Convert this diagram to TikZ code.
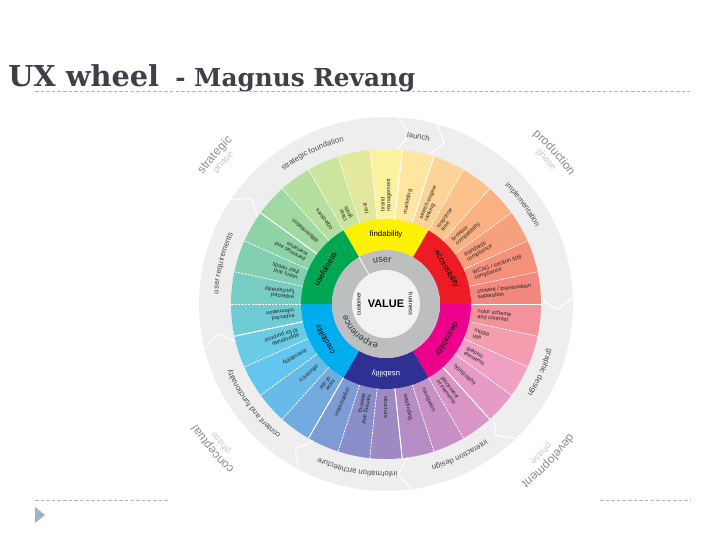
\documentclass[tikz,border=0pt]{standalone}
\usepackage{fontspec}
\setsansfont{Liberation Sans}
\newfontfamily\titlefont{DejaVu Serif}
\usepackage{tikz}
\usetikzlibrary{decorations.text}
\definecolor{titlegray}{HTML}{3F3F4A}
\definecolor{rulegray}{HTML}{B4B4B4}
\definecolor{bandgray}{HTML}{EEEEEE}
\definecolor{ringgray}{HTML}{BCBEC0}
\definecolor{valuewhite}{HTML}{F2F2F2}
\definecolor{phasegray}{HTML}{8C8C8C}
\definecolor{phaselight}{HTML}{C8C8C8}
\definecolor{bulletblue}{HTML}{9DB2C6}
\newcommand{\fsz}[1]{\fontsize{#1}{#1}\selectfont}

\begin{document}
\begin{tikzpicture}[
  font=\sffamily,
  seglabel/.style={font=\sffamily\fsz{4}, align=left, anchor=west, inner sep=0pt, text=black!85},
  corelabel/.style={font=\sffamily\fsz{5.6}, inner sep=0pt},
  segsep/.style={white, line width=0.5pt, dash pattern=on 1.6pt off 0.8pt},
  catsep/.style={white, line width=0.7pt},
  bandtext/.style={decorate, decoration={text along path, text align=center, text color=black!70, text={|\sffamily\fsz{5.5}|#1}}},
  ringtext/.style={decorate, decoration={text along path, text align=center, text color=black!80, text={|\sffamily\fsz{6.5}|#1}}},
  phasetext/.style={decorate, decoration={text along path, text align=center, text color=phasegray, text={|\sffamily\fsz{8.5}|#1}}},
  phasesub/.style={decorate, decoration={text along path, text align=center, text color=phaselight, text={|\sffamily\fsz{6.5}|#1}}},
  rulerline/.style={rulegray, line width=0.5pt, dash pattern=on 2.5pt off 1.5pt}
]
\useasboundingbox (-9.65,-5.9) rectangle (8.35,7.6);

\node[anchor=base west, inner sep=0pt, font=\titlefont\bfseries\fsz{20.5}, text=titlegray] (title) at (-9.45,5.425) {UX wheel};
\node[anchor=base west, inner sep=0pt, font=\titlefont\bfseries\fsz{17.6}, text=titlegray] (author) at (-5.275,5.425) {- Magnus Revang};
\draw[rulerline] (-8.775,5.325) -- (7.6,5.325);
\draw[rulerline] (-8.775,-4.9) -- (-5.45,-4.9);
\draw[rulerline] (5.35,-4.9) -- (7.6,-4.9);
\fill[bulletblue] (-8.775,-5.075) -- (-8.525,-5.275) -- (-8.775,-5.475) -- cycle;

\fill[bandgray] (0,0) circle (4.675);
\foreach \a/\c/\t [count=\i] in {
  102/E2E89E/{trust}, 90/FBF3A0/{brand\\management}, 78/FEE6A0/{marketing},
  66/FDD497/{search engine\\ranking}, 54/FBC38B/{response\\time},
  42/F9B183/{browser\\compatibility}, 30/F7A07D/{standards\\compliance},
  18/F5917A/{WCAG / section 508\\compliance}, 6/F3887F/{content / presentation\\separation},
  -6/F3929A/{color scheme\\and contrast}, -18/F39DAE/{media\\use},
  -30/F0A0C3/{graphic\\elements}, -42/E69BC7/{typography},
  -54/D895C6/{placement\\of elements}, -66/C891C5/{navigation},
  -78/B48DC4/{wayfinding}, -90/9E8AC3/{structure},
  -102/8A8FCB/{naming and\\labeling}, -114/7D9BD5/{organization},
  -126/73AADF/{ease\\of use}, -138/68BAE9/{efficiency},
  -150/62C6F0/{learnability}, -162/69CBE4/{appropriate\\fit for purpose},
  -174/70CCD4/{expected\\information}, 174/77CDC1/{expected\\functionality},
  162/82CFB1/{users and\\their needs}, 150/8ED3A5/{personas and\\scenarios},
  138/9FD8A0/{differentiation}, 126/B5DF9E/{objectives}, 114/CBE59D/{clear\\goals}}{
  \definecolor{segc}{HTML}{\c}
  \fill[segc] ({\a-6}:2.125) -- ({\a-6}:3.875) arc[start angle=\a-6, end angle=\a+6, radius=3.875]
    -- ({\a+6}:2.125) arc[start angle=\a+6, end angle=\a-6, radius=2.125] -- cycle;
  \node[seglabel, rotate=\a] (seg\i) at (\a:2.3) {\t};
}
\foreach \b in {0,12,...,348}
  \draw[segsep] (\b:2.125) -- (\b:3.875);
\foreach \b in {144,84,72,0,-48,-84,-120,-168}{
  \draw[catsep] (\b:2.125) -- (\b:3.875);
  \draw[catsep] ({\b+2}:3.875) -- ({\b-2}:4.275) -- ({\b+2}:4.675);
}

\foreach \m/\c/\t/\k [count=\j] in {90/FFF200/findability/black, 30/ED1C24/accessibility/black,
  -30/EC008C/desirability/black, -90/2E3192/usability/white,
  -150/00AEEF/credibility/black, 150/00A651/usefulness/black}{
  \definecolor{corec}{HTML}{\c}
  \fill[corec] ({\m-30}:1.35) -- ({\m-30}:2.125) arc[start angle=\m-30, end angle=\m+30, radius=2.125]
    -- ({\m+30}:1.35) arc[start angle=\m+30, end angle=\m-30, radius=1.35] -- cycle;
  \node[corelabel, text=\k, rotate=\m-90] (core\j) at (\m:1.75) {\t};
}

\fill[ringgray] (0,0) circle (1.35);
\fill[valuewhite] (0,0) circle (0.85);
\draw[white, line width=0.6pt] (120:0.85) -- (120:1.35);
\node[font=\sffamily\bfseries\fsz{7.8}] (value) at (0,0) {VALUE};
\node[font=\sffamily\fsz{4}, rotate=90] (customer) at (180:0.68) {customer};
\node[font=\sffamily\fsz{4}, rotate=-90] (business) at (0:0.62) {business};
\path[ringtext={user}] (125:1.05) arc[start angle=125, end angle=65, radius=1.05];
\path[ringtext={experience}] (-88:1.0) arc[start angle=-88, end angle=-178, radius=1.0];

\path[bandtext={strategic foundation}] (141:4.2) arc[start angle=141, end angle=91, radius=4.2];
\path[bandtext={launch}] (99:4.2) arc[start angle=99, end angle=59, radius=4.2];
\path[bandtext={implementation}] (61:4.2) arc[start angle=61, end angle=11, radius=4.2];
\path[bandtext={graphic design}] (1:4.2) arc[start angle=1, end angle=-49, radius=4.2];
\path[bandtext={interaction design}] (-39:4.2) arc[start angle=-39, end angle=-89, radius=4.2];
\path[bandtext={information architecture}] (-72:4.2) arc[start angle=-72, end angle=-128, radius=4.2];
\path[bandtext={content and functionality}] (-115:4.2) arc[start angle=-115, end angle=-171, radius=4.2];
\path[bandtext={user requirements}] (191:4.2) arc[start angle=191, end angle=141, radius=4.2];

\path[phasetext={strategic}] (163:5.6) arc[start angle=163, end angle=115, radius=5.6];
\path[phasesub={phase}] (159:5.33) arc[start angle=159, end angle=119, radius=5.33];
\path[phasetext={production}] (66:5.6) arc[start angle=66, end angle=18, radius=5.6];
\path[phasesub={phase}] (62:5.33) arc[start angle=62, end angle=22, radius=5.33];
\path[phasetext={development}] (-20:5.6) arc[start angle=-20, end angle=-68, radius=5.6];
\path[phasesub={phase}] (-24:5.33) arc[start angle=-24, end angle=-64, radius=5.33];
\path[phasetext={conceptual}] (-116:5.6) arc[start angle=-116, end angle=-164, radius=5.6];
\path[phasesub={phase}] (-120:5.33) arc[start angle=-120, end angle=-160, radius=5.33];
\end{tikzpicture}
\end{document}
